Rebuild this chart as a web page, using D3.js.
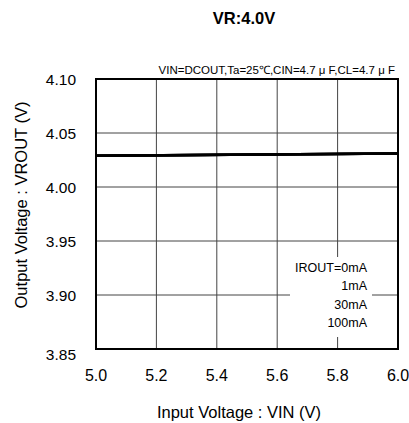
<!DOCTYPE html>
<html>
<head>
<meta charset="utf-8">
<script src="https://cdn.jsdelivr.net/npm/d3@7"></script>
<style>
  body { margin: 0; background: #fff; }
  text { font-family: "Liberation Sans", Arial, sans-serif; fill: #000; }
</style>
</head>
<body>
<div id="chart"></div>
<script>
const xTicks = [5.0, 5.2, 5.4, 5.6, 5.8, 6.0];
const yTicks = [3.85, 3.90, 3.95, 4.00, 4.05, 4.10];
const vin = [5.0, 6.0];
const series = [
    { name: "IROUT=0mA", values: [4.029, 4.031] },
    { name: "1mA", values: [4.029, 4.031] },
    { name: "30mA", values: [4.029, 4.031] },
    { name: "100mA", values: [4.029, 4.031] }
];

const width = 409, height = 423;
const margin = { top: 79, right: 11, bottom: 74, left: 96 };
const w = width - margin.left - margin.right;
const h = height - margin.top - margin.bottom;

const svg = d3.select("#chart").append("svg")
    .attr("width", width)
    .attr("height", height);

const g = svg.append("g")
    .attr("transform", `translate(${margin.left},${margin.top})`);

const x = d3.scaleLinear().domain([5.0, 6.0]).range([0, w]);
const y = d3.scaleLinear().domain([3.85, 4.10]).range([h, 0]);

// grid
g.selectAll(".vgrid")
    .data(xTicks.slice(1, -1))
    .enter().append("line")
    .attr("x1", d => x(d)).attr("x2", d => x(d))
    .attr("y1", 0).attr("y2", h)
    .attr("stroke", "#444").attr("stroke-width", 1);

g.selectAll(".hgrid")
    .data(yTicks.slice(1, -1))
    .enter().append("line")
    .attr("x1", 0).attr("x2", w)
    .attr("y1", d => y(d)).attr("y2", d => y(d))
    .attr("stroke", "#444").attr("stroke-width", 1);

// legend box (covers grid)
const legend = g.append("g");
legend.append("rect")
    .attr("x", 194).attr("y", 178)
    .attr("width", 82).attr("height", 80)
    .attr("fill", "#fff");
legend.selectAll("text")
    .data(series)
    .enter().append("text")
    .attr("x", 271)
    .attr("y", (d, i) => 193 + i * 18.3)
    .attr("text-anchor", "end")
    .attr("font-size", 12.5)
    .text(d => d.name);

// lines
const line = d3.line()
    .x((d, i) => x(vin[i]))
    .y(d => y(d));

g.selectAll(".series")
    .data(series)
    .enter().append("path")
    .attr("d", d => line(d.values))
    .attr("fill", "none")
    .attr("stroke", "#000")
    .attr("stroke-width", 2.5);

// frame
g.append("rect")
    .attr("x", 0).attr("y", 0)
    .attr("width", w).attr("height", h)
    .attr("fill", "none")
    .attr("stroke", "#000")
    .attr("stroke-width", 2);

// tick labels
g.selectAll(".xlab")
    .data(xTicks)
    .enter().append("text")
    .attr("x", d => x(d))
    .attr("y", h + 32)
    .attr("text-anchor", "middle")
    .attr("font-size", 16)
    .text(d => d.toFixed(1));

g.selectAll(".ylab")
    .data(yTicks)
    .enter().append("text")
    .attr("x", -20)
    .attr("y", (d, i) => y(d) + (i === 0 ? 11 : 5.5))
    .attr("text-anchor", "end")
    .attr("font-size", 15.5)
    .text(d => d.toFixed(2));

// titles
svg.append("text")
    .attr("x", 244).attr("y", 24)
    .attr("text-anchor", "middle")
    .attr("font-size", 16.5)
    .attr("font-weight", "bold")
    .text("VR:4.0V");

svg.append("text")
    .attr("x", 395).attr("y", 74)
    .attr("text-anchor", "end")
    .attr("font-size", 11.5)
    .text("VIN=DCOUT,Ta=25\u2103,CIN=4.7 \u03bc F,CL=4.7 \u03bc F");

svg.append("text")
    .attr("x", 239).attr("y", 418)
    .attr("text-anchor", "middle")
    .attr("font-size", 16.5)
    .text("Input Voltage : VIN (V)");

svg.append("text")
    .attr("transform", "rotate(-90)")
    .attr("x", -205).attr("y", 27)
    .attr("text-anchor", "middle")
    .attr("font-size", 16.5)
    .text("Output Voltage : VROUT (V)");
</script>
</body>
</html>
